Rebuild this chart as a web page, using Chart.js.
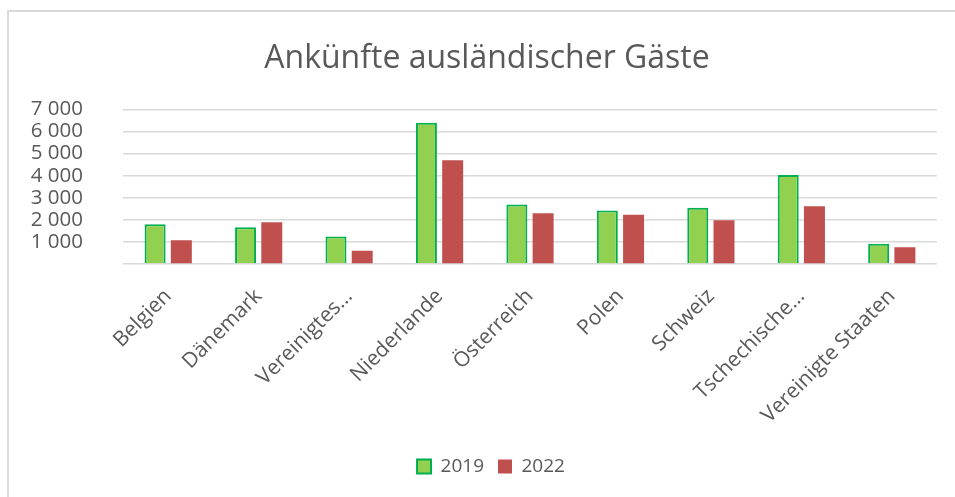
<!DOCTYPE html>
<html>
<head>
<meta charset="utf-8">
<script src="https://cdn.jsdelivr.net/npm/chart.js@4"></script>
<style>
  html, body { margin: 0; padding: 0; background: #fff; }
  #frame {
    position: absolute; left: 7px; top: 10px;
    width: 946px; height: 485px;
    border-left: 2px solid #d9d9d9; border-top: 2px solid #d9d9d9;
  }
  #frame canvas { display: block; }
</style>
</head>
<body>
<div id="frame"><canvas id="gaesteChart" width="946" height="485"></canvas></div>
<script>
// Ankünfte ausländischer Gäste, 2019 vs 2022
const countries = ["Belgien", "Dänemark", "Vereinigtes…", "Niederlande", "Österreich",
  "Polen", "Schweiz", "Tschechische…", "Vereinigte Staaten"];
const arrivals2019 = [1800, 1660, 1250, 6400, 2690, 2420, 2550, 4030, 920];
const arrivals2022 = [1070, 1890, 600, 4700, 2300, 2230, 1980, 2610, 760];
const yTicks = [0, 1000, 2000, 3000, 4000, 5000, 6000, 7000];

const grey = "#595959";
const font = "'Open Sans', sans-serif";

// thousands separated by a space, the 0 label is left out
function fmt(v) {
  if (v === 0) return "";
  return String(v).replace(/\B(?=(\d{3})+(?!\d))/g, " ");
}

// title and legend are centred on the whole frame, not only up to the plot's right edge
const centreOnFrame = {
  id: "centreOnFrame",
  afterLayout(chart) {
    chart.titleBlock.right = chart.width + 10;
    chart.legend.right = chart.width + 18;
  }
};

const ctx = document.getElementById("gaesteChart").getContext("2d");

new Chart(ctx, {
  type: "bar",
  data: {
    labels: countries,
    datasets: [
      {
        label: "2019",
        data: arrivals2019,
        backgroundColor: "#92d050",
        borderColor: "#00b050",
        borderWidth: 2
      },
      {
        label: "2022",
        data: arrivals2022,
        backgroundColor: "#c0504d",
        borderWidth: 0
      }]
  },
  plugins: [centreOnFrame],
  options: {
    responsive: false,
    animation: false,
    categoryPercentage: 0.58,
    barPercentage: 0.8,
    layout: { padding: { left: 0, right: 18, top: 0, bottom: 11 } },
    plugins: {
      title: {
        display: true,
        text: "Ankünfte ausländischer Gäste",
        color: grey,
        font: { family: font, size: 32, weight: "normal" },
        padding: { top: 28, bottom: 31 }
      },
      legend: {
        position: "bottom",
        labels: {
          color: grey,
          font: { family: font, size: 19 },
          boxWidth: 14, boxHeight: 14,
          padding: 14
        }
      },
      tooltip: { enabled: false }
    },
    scales: {
      x: {
        afterFit: (scale) => { scale.height = 179; },
        grid: { display: false },
        border: { display: false },
        ticks: {
          color: grey,
          font: { family: font, size: 21 },
          minRotation: 45, maxRotation: 45,
          padding: 12,
          autoSkip: false
        }
      },
      y: {
        min: 0, max: 7000,
        afterFit: (scale) => { scale.width = 114; },
        afterBuildTicks: (scale) => { scale.ticks = yTicks.map(v => ({ value: v })); },
        border: { display: false },
        grid: { color: "#d9d9d9", lineWidth: 1.5, drawTicks: false },
        ticks: {
          color: grey,
          font: { family: font, size: 20.5 },
          padding: 40,
          autoSkip: false,
          callback: fmt
        }
      }
    }
  }
});
</script>
</body>
</html>
